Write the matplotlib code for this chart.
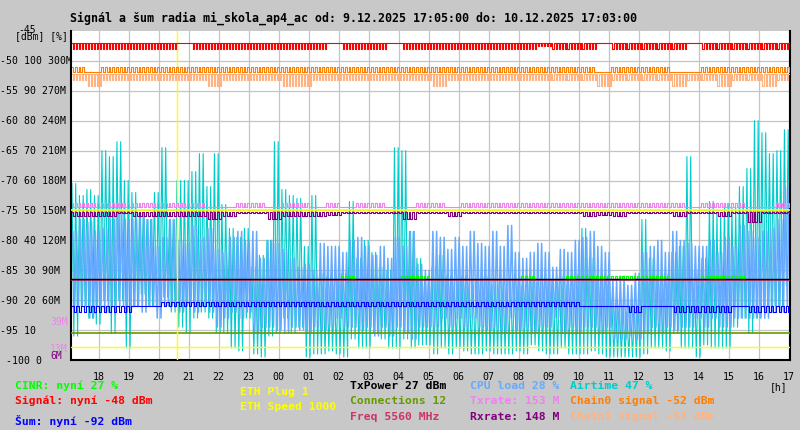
import matplotlib
matplotlib.use("Agg")
import matplotlib.pyplot as plt
import numpy as np

# chart: radio signal/noise of mi_skola_ap4_ac, 9.12.2025 17:05 -> 10.12.2025 17:03
title = "Signál a šum radia mi_skola_ap4_ac od: 9.12.2025 17:05:00 do: 10.12.2025 17:03:00"
hour_labels = ["18", "19", "20", "21", "22", "23", "00", "01", "02", "03", "04", "05",
               "06", "07", "08", "09", "10", "11", "12", "13", "14", "15", "16", "17"]
first_full_hour = 55 / 60.0          # 18:00 is 55 min after start
span_hours = 23 + 58 / 60.0          # 17:05 -> 17:03

# left axis labels (dBm, %, rate)
ytick_db = [-50, -55, -60, -65, -70, -75, -80, -85, -90, -95, -100]
ytick_labels = ["-50 100 300M", "-55 90 270M", "-60 80 240M", "-65 70 210M",
                "-70 60 180M", "-75 50 150M", "-80 40 120M", "-85 30 90M",
                "-90 20 60M", "-95 10", " -100 0"]

# --- Airtime / CPU load [%], 15 min bins: max and min of each bin
airtime_hi = [59, 55, 57, 55, 70, 68, 73, 60, 56, 49, 47, 56, 71, 47, 60, 60, 63, 69, 58, 69, 52, 44, 41, 44,
              31, 35, 40, 73, 57, 55, 54, 38, 55, 29, 28, 27, 29, 53, 34, 40, 36, 31, 30, 71, 70, 43, 34, 27,
              31, 35, 28, 26, 28, 25, 27, 28, 25, 26, 27, 27, 25, 28, 26, 27, 27, 28, 25, 29, 44, 34, 27, 28,
              19, 18, 16, 18, 47, 34, 28, 29, 36, 38, 68, 30, 34, 53, 49, 52, 51, 58, 64, 80, 76, 69, 70, 77]
airtime_lo = [8, 18, 14, 12, 20, 9, 20, 4, 18, 22, 18, 18, 21, 16, 11, 9, 14, 16, 14, 9, 9, 4, 3, 14,
              2, 1, 8, 9, 14, 9, 11, 1, 2, 2, 3, 2, 1, 7, 4, 4, 9, 7, 4, 4, 7, 4, 5, 5,
              2, 4, 2, 4, 3, 2, 2, 3, 2, 2, 2, 3, 2, 5, 3, 2, 2, 4, 2, 2, 2, 3, 2, 1,
              1, 1, 1, 1, 2, 4, 4, 3, 9, 4, 4, 1, 5, 4, 4, 4, 11, 14, 9, 14, 18, 18, 18, 25]
cpu_hi = [43, 47, 46, 43, 44, 47, 50, 47, 47, 48, 47, 38, 41, 47, 40, 39, 45, 41, 44, 37, 36, 41, 43, 40,
          43, 34, 40, 39, 37, 34, 31, 32, 30, 39, 38, 38, 36, 40, 41, 38, 35, 38, 34, 41, 38, 43, 32, 30,
          43, 41, 37, 41, 38, 43, 39, 38, 43, 38, 45, 36, 34, 36, 39, 36, 31, 37, 36, 40, 41, 43, 38, 36,
          27, 28, 25, 29, 36, 38, 40, 36, 43, 40, 39, 38, 38, 40, 36, 41, 38, 45, 43, 41, 43, 44, 47, 58]
cpu_lo = [18, 18, 14, 18, 16, 18, 18, 16, 18, 16, 18, 14, 18, 18, 16, 18, 16, 18, 16, 11, 14, 16, 14, 16,
          9, 11, 11, 10, 9, 11, 10, 9, 11, 10, 11, 14, 11, 11, 10, 11, 8, 11, 8, 11, 9, 7, 11, 11,
          11, 14, 11, 14, 11, 14, 11, 10, 11, 9, 14, 10, 11, 9, 11, 11, 14, 9, 11, 9, 11, 11, 9, 11,
          7, 7, 8, 7, 9, 11, 9, 11, 10, 11, 11, 14, 11, 14, 11, 11, 14, 14, 14, 14, 14, 16, 16, 18]

# --- 30 min bins: level ranges of the narrow lines [dBm / scaled]
signal_hi = [-47.0] * 48
signal_lo = [-48, -48, -48, -48, -48, -48, -48, -47, -48, -48, -48, -48, -48, -48, -48, -48,
             -48, -47, -48, -48, -48, -47, -48, -48, -48, -48, -48, -48, -48, -48, -48, -47.5,
             -48, -48, -48, -47, -48, -48, -48, -48, -48, -47, -48, -48, -48, -48, -48, -48]
chain0_hi = [-51, -51.8, -51, -51, -51, -51, -51, -51, -51, -51, -51, -51, -51, -51, -51, -51,
             -51, -51, -51, -51, -51, -51, -51, -51, -51, -51, -51, -51, -51, -51, -51, -51,
             -51, -51, -51, -51.8, -51, -51, -51, -51, -51.8, -51.8, -51, -51, -51, -51, -51, -51]
chain0_lo = [-51.8] * 48
chain1_hi = [-52.2] * 48
chain1_lo = [-53.2, -54.2, -53.2, -53.2, -53.2, -53.2, -53.2, -53.2, -53.2, -54.2, -53.2, -53.2,
             -53.2, -53.2, -54.2, -54.2, -53.2, -53.2, -53.2, -53.2, -53.2, -53.2, -53.2, -53.2,
             -54.2, -53.2, -53.2, -53.2, -53.2, -53.2, -53.2, -53.2, -53.2, -53.2, -53.2, -54.2,
             -53.2, -53.2, -53.2, -53.2, -54.2, -53.2, -53.2, -54.2, -53.2, -53.2, -54.2, -53.2]
txrate_hi = [-73.8, -73.8, -73.8, -73.8, -73.8, -73.8, -73.8, -73.8, -73.8, -74.4, -74.4, -73.8,
             -73.8, -74.4, -73.8, -73.8, -74.4, -73.8, -74.4, -73.8, -73.8, -74.4, -74.4, -73.8,
             -73.8, -74.4, -73.8, -73.8, -73.8, -73.8, -73.8, -73.8, -73.8, -73.8, -73.8, -73.8,
             -73.8, -73.8, -73.8, -73.8, -73.8, -74.4, -73.8, -73.8, -73.8, -74.4, -74.4, -73.8]
txrate_lo = [-74.4] * 48
rxrate_hi = [-75.2] * 48
rxrate_lo = [-76, -76, -76, -75.5, -75.9, -75.9, -75.9, -75.9, -75.9, -76.5, -76, -75.5,
             -75.5, -76.5, -76, -76, -76, -75.8, -75.5, -75.5, -75.5, -75.5, -76.5, -75.5,
             -75.5, -76, -75.5, -75.5, -75.5, -75.5, -75.5, -75.5, -75.5, -75.5, -76, -75.8,
             -76, -75.5, -75.5, -75.5, -76, -75.5, -75.5, -76, -75.5, -77, -75.5, -75.5]
noise_hi = [-91] * 6 + [-90.3] * 28 + [-91] * 14
noise_lo = [-92, -92, -92, -92, -91, -91, -91, -91, -91, -91, -91, -91, -91, -91, -91, -91,
            -91, -91, -91, -91, -91, -91, -91, -91, -91, -91, -91, -91, -91, -91, -91, -91,
            -91, -91, -91, -91, -91, -92, -91, -91, -92, -92, -92, -92, -91, -92, -92, -92]
cinr_hi = [27] * 18 + [28, 27, 27, 27, 28, 28, 27, 27, 27, 27, 27, 27, 28, 27, 27, 28, 28, 28,
                       28, 28, 28, 28, 27, 27, 28, 28, 28, 27, 27, 27]
cinr_lo = [27] * 48

# constant levels (as drawn, dBm scale)
txpower_level = -86.4
freq_level = -86.6
eth_speed_level = -75.0
connections_level = -95.5
eth_plug_level = -97.9
eth_event_hours = [3.53]

legend_rows = [
    ("CINR: nyní 27 %", "#00ff00", 15, 386),
    ("Signál: nyní -48 dBm", "#ff0000", 15, 401),
    ("Šum: nyní -92 dBm", "#0000ff", 15, 421),
    ("ETH Plug 1", "#ffff00", 240, 392),
    ("ETH Speed 1000", "#ffff00", 240, 407),
    ("TxPower 27 dBm", "#000000", 350, 386),
    ("Connections 12", "#669900", 350, 401),
    ("Freq 5560 MHz", "#cc3366", 350, 417),
    ("CPU load 28 %", "#66aaff", 470, 386),
    ("Txrate: 153 M", "#ee82ee", 470, 401),
    ("Rxrate: 148 M", "#800080", 470, 417),
    ("Airtime 47 %", "#00cccc", 570, 386),
    ("Chain0 signal -52 dBm", "#ff7f00", 570, 401),
    ("Chain1 signal -53 dBm", "#ffb380", 570, 417),
]


def zigzag(hi, lo, bin_hours, teeth):
    hi = np.asarray(hi, dtype=float)
    lo = np.asarray(lo, dtype=float)
    n = len(hi) * teeth * 2
    step = bin_hours / (teeth * 2)
    t = np.arange(n) * step + step / 2
    y = np.empty(n)
    y[0::2] = np.repeat(hi, teeth)
    y[1::2] = np.repeat(lo, teeth)
    return t, y


def pct(v):
    return np.asarray(v, dtype=float) / 2.0 - 100.0


W, H = 800, 430
fig = plt.figure(figsize=(W / 100, H / 100), dpi=100, facecolor="#c8c8c8")
ax = fig.add_axes([71 / W, 70 / H, 719 / W, 329 / H])
ax.set_facecolor("white")
ax.set_xlim(0, span_hours)
ax.set_ylim(-100, -45)

mono = "DejaVu Sans Mono"

# grid
for h in range(len(hour_labels)):
    ax.axvline(first_full_hour + h, color="#c4c4c4", lw=0.9, zorder=0)
for v in range(-95, -45, 5):
    ax.axhline(v, color="#c4c4c4", lw=0.9, zorder=0)

# wide bands (airtime under cpu load)
t, y = zigzag(airtime_hi, airtime_lo, 0.25, 2)
ax.plot(t, pct(y), color="#00cccc", lw=0.8, zorder=2)
t, y = zigzag(cpu_hi, cpu_lo, 0.25, 2)
ax.plot(t + 0.031, pct(y), color="#66aaff", lw=1.1, zorder=2)

# constant lines
ax.axhline(eth_plug_level, color="#ffff00", lw=1.0, zorder=3)
ax.axhline(connections_level, color="#669900", lw=1.2, zorder=3)
t, y = zigzag(cinr_hi, cinr_lo, 0.5, 4)
ax.plot(t, pct(y), color="#00ff00", lw=0.8, drawstyle="steps-mid", zorder=3)
ax.axhline(freq_level, color="#cc3366", lw=1.2, zorder=3)
ax.axhline(txpower_level, color="#000000", lw=1.0, zorder=3)
ax.axhline(eth_speed_level, color="#ffff00", lw=1.2, zorder=3)
for e in eth_event_hours:
    ax.axvline(e, color="#ffff00", lw=1.0, zorder=3)

# narrow series
series = [
    (noise_hi, noise_lo, "#0000ff", 3),
    (rxrate_hi, rxrate_lo, "#800080", 4),
    (txrate_hi, txrate_lo, "#ee82ee", 4),
    (chain1_hi, chain1_lo, "#ffb380", 5),
    (chain0_hi, chain0_lo, "#ff7f00", 4),
    (signal_hi, signal_lo, "#ff0000", 5),
]
for hi, lo, col, teeth in series:
    t, y = zigzag(hi, lo, 0.5, teeth)
    ax.plot(t, y, color=col, lw=0.8, drawstyle="steps-mid", zorder=4)

ax.spines["top"].set_visible(False)
for s in ["left", "bottom", "right"]:
    ax.spines[s].set_color("black")
    ax.spines[s].set_linewidth(1.5)
ax.set_xticks([])
ax.set_yticks([])


def ftext(x, y, s, **kw):
    fig.text(x / W, 1 - y / H, s, va="center", family=mono, **kw)


ftext(70, 18, title, ha="left", fontsize=8.35, fontweight="bold")
ftext(18, 30, "-45", ha="left", fontsize=7)
ftext(15, 36, "[dBm] [%]", ha="left", fontsize=7)
for v, lab in zip(ytick_db, ytick_labels):
    ypix = 31 + (-45 - v) * 6
    ftext(0, ypix, lab, ha="left", fontsize=7.1)
ftext(50, 322, "39M", ha="left", fontsize=7, color="#ee82ee")
ftext(50, 349, "13M", ha="left", fontsize=7, color="#ee82ee")
ftext(50, 356, "6M", ha="left", fontsize=7, color="#800080")
for i, lab in enumerate(hour_labels):
    xpix = 71 + (first_full_hour + i) * 30
    ftext(xpix, 377, lab, ha="center", fontsize=7.2)
ftext(787, 387, "[h]", ha="right", fontsize=7)
for lab, col, x, y in legend_rows:
    ftext(x, y, lab, ha="left", fontsize=8.2, fontweight="bold", color=col)

fig.savefig("out.png", dpi=100, facecolor=fig.get_facecolor())
